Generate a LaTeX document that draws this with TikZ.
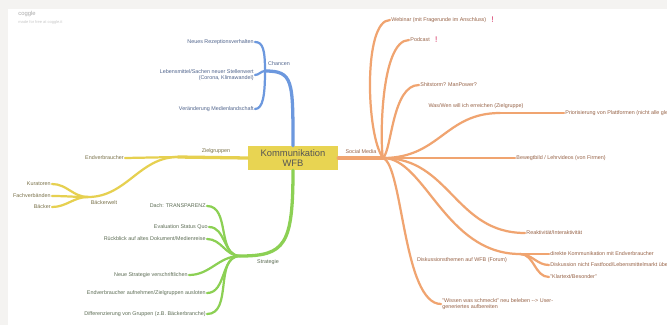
\documentclass[tikz,border=0pt]{standalone}
\usepackage{fontspec}
\setmainfont{Liberation Sans}
\usetikzlibrary{positioning}

\begin{document}
\begin{tikzpicture}[x=0.03cm,y=-0.03cm]
	\tikzstyle{every node}=[font=\fontsize{4.6}{5.4}\selectfont, inner sep=1pt]
	\tikzstyle{main}=[line width=2.8pt, line cap=round]
	\tikzstyle{sub}=[line width=1.9pt, line cap=round]
	\tikzstyle{chline}=[color={rgb,255:red,108; green,152; blue,222}]
	\tikzstyle{zgline}=[color={rgb,255:red,230; green,208; blue,80}]
	\tikzstyle{stline}=[color={rgb,255:red,140; green,208; blue,84}]
	\tikzstyle{smline}=[color={rgb,255:red,240; green,164; blue,112}]
	\tikzstyle{chtext}=[text={rgb,255:red,80; green,100; blue,140}]
	\tikzstyle{zgtext}=[text={rgb,255:red,120; green,112; blue,72}]
	\tikzstyle{sttext}=[text={rgb,255:red,92; green,108; blue,84}]
	\tikzstyle{smtext}=[text={rgb,255:red,150; green,98; blue,70}]
	\tikzstyle{bang}=[font=\fontsize{7}{7}\selectfont, text={rgb,255:red,212; green,40; blue,92}]
	\useasboundingbox (0,0) rectangle (667,325);
	\clip (0,0) rectangle (667,325);
	\fill [color={rgb,255:red,244; green,243; blue,241}] (0,0) rectangle (667,325);
	\fill [white] (8,9) rectangle (667,325);
	\node [anchor=west, font=\fontsize{5}{6}\selectfont, text={rgb,255:red,170; green,170; blue,170}] (logo) at (17,14) {coggle};
	\node [anchor=west, font=\fontsize{3.4}{4}\selectfont, text={rgb,255:red,200; green,200; blue,200}] (free) at (17,22) {made for free at coggle.it};

	\node [fill={rgb,255:red,232; green,212; blue,82}, minimum width=2.7cm, minimum height=0.72cm, align=center, font=\fontsize{8}{9}\selectfont, text={rgb,255:red,85; green,85; blue,85}] (kom) at (293,158) {Kommunikation\\WFB};

	\coordinate (chB) at (265,71);
	\node [chtext] (chancen) at (279,64) {Chancen};
	\node [chtext, anchor=east] (rez) at (255,42) {Neues Rezeptionsverhalten};
	\node [chtext, anchor=east, align=right] (leb) at (255,75) {Lebensmittel/Sachen neuer Stellenwert\\(Corona, Klimawandel)};
	\node [chtext, anchor=east] (vmed) at (255,109) {Veränderung Medienlandschaft};
	\draw [main, chline] (kom.north) .. controls (293,80) and (293,71) .. (chB);
	\draw [sub, chline] (chB) .. controls (265,50) and (263,42) .. (rez.east);
	\draw [sub, chline] (chB) .. controls (261,71) and (259,75) .. (leb.east);
	\draw [sub, chline] (chB) .. controls (265,95) and (263,109) .. (vmed.east);

	\coordinate (zgA) at (178,157);
	\coordinate (zgB) at (88,197);
	\node [zgtext] (ziel) at (216,151) {Zielgruppen};
	\node [zgtext, anchor=east] (endv) at (125,158) {Endverbraucher};
	\node [zgtext] (baeck) at (104,203) {Bäckerwelt};
	\node [zgtext, anchor=east] (kur) at (52,184) {Kuratoren};
	\node [zgtext, anchor=east] (fach) at (52,196) {Fachverbänden};
	\node [zgtext, anchor=east] (buch) at (52,207) {Bäcker};
	\draw [main, zgline] (kom.west) -- (zgA);
	\draw [sub, zgline] (zgA) -- (endv.east);
	\draw [sub, zgline] (zgA) to[out=180, in=0] (zgB);
	\draw [sub, zgline] (zgB) to[out=180, in=0] (kur.east);
	\draw [sub, zgline] (zgB) to[out=180, in=0] (fach.east);
	\draw [sub, zgline] (zgB) to[out=180, in=0] (buch.east);

	\coordinate (stB) at (240,256);
	\node [sttext] (strat) at (268,262) {Strategie};
	\node [sttext, anchor=east] (dach) at (207,206) {Dach: TRANSPARENZ};
	\node [sttext, anchor=east] (eval) at (209,227) {Evaluation Status Quo};
	\node [sttext, anchor=east] (rueck) at (207,239) {Rückblick auf altes Dokument/Medienreise};
	\node [sttext, anchor=east] (neus) at (189,275) {Neue Strategie verschriftlichen};
	\node [sttext, anchor=east] (endz) at (207,293) {Endverbraucher aufnehmen/Zielgruppen ausloten};
	\node [sttext, anchor=east] (diff) at (207,314) {Differenzierung von Gruppen (z.B. Bäckerbranche)};
	\draw [main, stline] (kom.south) .. controls (293,245) and (285,256) .. (stB);
	\draw [sub, stline] (stB) to[out=180, in=0] (dach.east);
	\draw [sub, stline] (stB) to[out=180, in=0] (eval.east);
	\draw [sub, stline] (stB) to[out=180, in=0] (rueck.east);
	\draw [sub, stline] (stB) to[out=180, in=0] (neus.east);
	\draw [sub, stline] (stB) to[out=180, in=0] (endz.east);
	\draw [sub, stline] (stB) to[out=180, in=0] (diff.east);

	\coordinate (smB) at (383,158);
	\coordinate (wasB) at (500,113);
	\coordinate (disB) at (520,254);
	\node [smtext] (social) at (361,152) {Social Media};
	\node [smtext, anchor=west] (web) at (390,20) {Webinar (mit Fragerunde im Anschluss)};
	\node [bang, right=2pt of web] (webx) {!};
	\node [smtext, anchor=west] (pod) at (409,40) {Podcast};
	\node [bang, right=2pt of pod] (podx) {!};
	\node [smtext, anchor=west] (shit) at (419,85) {Shitstorm? ManPower?};
	\node [smtext] (was) at (476,106) {Was/Wen will ich erreichen (Zielgruppe)};
	\node [smtext, anchor=west] (prio) at (564,113) {Priorisierung von Plattformen (nicht alle gleichzeitig)};
	\node [smtext, anchor=west] (bewegt) at (515,158) {Bewegtbild / Lehrvideos (von Firmen)};
	\node [smtext, anchor=west] (reakt) at (525,233) {Reaktivität/Interaktivität};
	\node [smtext] (disk) at (462,260) {Diskussionsthemen auf WFB (Forum)};
	\node [smtext, anchor=west] (direkt) at (549,254) {direkte Kommunikation mit Endverbraucher};
	\node [smtext, anchor=west] (fast) at (549,265) {Diskussion nicht Fastfood/Lebensmittelmarkt überlassen};
	\node [smtext, anchor=west] (klar) at (549,277) {"Klartext/Besonder"};
	\node [smtext, anchor=west, align=left] (wiss) at (441,304) {"Wissen was schmeckt" neu beleben {-}{-}> User-\\generiertes aufbereiten};
	\draw [main, smline] (kom.east) -- (smB);
	\draw [sub, smline] (smB) .. controls (366,135) and (363,20) .. (web.west);
	\draw [sub, smline] (smB) .. controls (380,145) and (380,40) .. (pod.west);
	\draw [sub, smline] (smB) .. controls (392,150) and (392,85) .. (shit.west);
	\draw [sub, smline] (smB) .. controls (440,158) and (445,113) .. (wasB);
	\draw [sub, smline] (wasB) -- (prio.west);
	\draw [sub, smline] (smB) -- (bewegt.west);
	\draw [sub, smline] (smB) .. controls (450,158) and (455,233) .. (reakt.west);
	\draw [sub, smline] (smB) .. controls (425,158) and (445,254) .. (disB);
	\draw [sub, smline] (disB) to[out=0, in=180] (direkt.west);
	\draw [sub, smline] (disB) to[out=0, in=180] (fast.west);
	\draw [sub, smline] (disB) to[out=0, in=180] (klar.west);
	\draw [sub, smline] (smB) .. controls (403,165) and (403,304) .. (wiss.west);
\end{tikzpicture}
\end{document}
